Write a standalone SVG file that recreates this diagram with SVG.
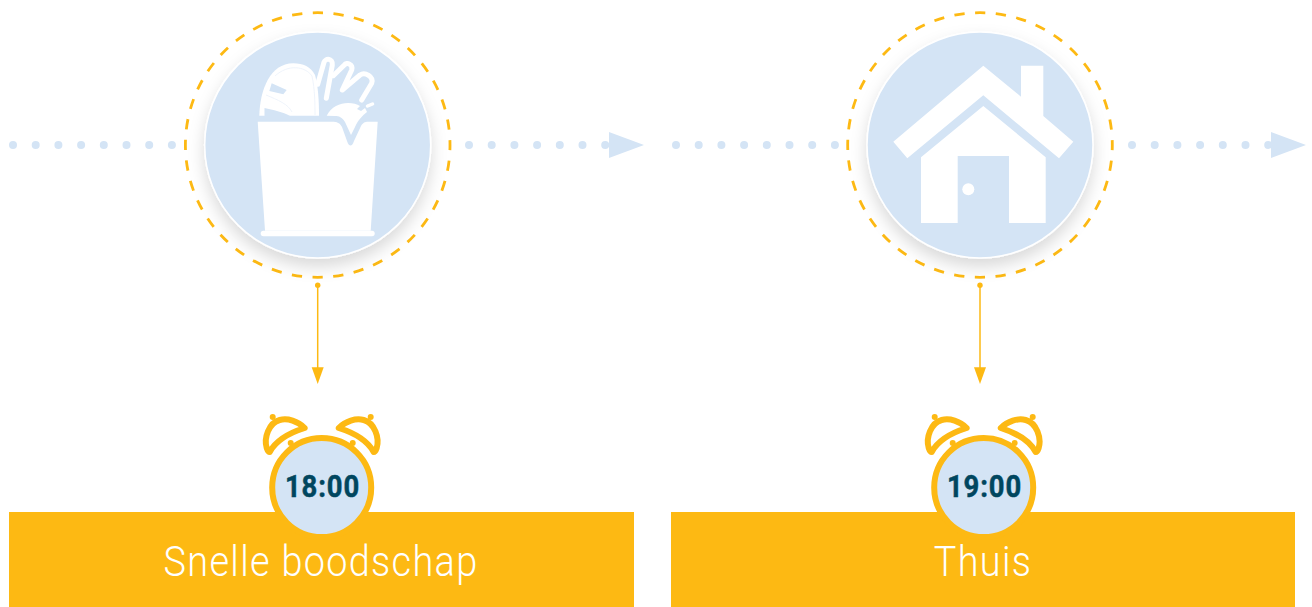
<svg xmlns="http://www.w3.org/2000/svg" width="1312" height="607" viewBox="0 0 1312 607">
<defs>
<style>
.dash{fill:none;stroke:#fdb913;stroke-width:2.8;stroke-dasharray:10.3 10.48;stroke-dashoffset:5.15}
.disc{fill:#d4e4f5;stroke:#fff;stroke-width:1.5;filter:url(#sh)}
.dots{fill:none;stroke:#d4e4f5;stroke-width:8;stroke-linecap:round;stroke-dasharray:0 22.7}
.head{fill:#d4e4f5}
.lead{stroke:#fdb913;stroke-width:1.5;fill:none}
.tip{fill:#fdb913}
.bar{fill:#fdb913}
.ring{fill:#d4e4f5;stroke:#fdb913;stroke-width:6}
.bell{fill:#fff;stroke:#fdb913;stroke-width:6;stroke-linejoin:round}
.knob{fill:#fdb913}
.time{font-family:"Roboto","Liberation Sans",sans-serif;font-weight:700;font-size:30.5px;fill:#00465f;stroke:#00465f;stroke-width:.5;text-anchor:middle;letter-spacing:1px}
.label{font-family:"Roboto","Liberation Sans",sans-serif;font-weight:300;font-size:43px;fill:#fff;text-anchor:middle;letter-spacing:1.5px}
.ico{fill:#fff}
.ln{fill:none;stroke:#fff;stroke-width:5;stroke-linecap:round;stroke-linejoin:round}
.faint{fill:none;stroke:#edf3fa;stroke-width:.9}
</style>
<filter id="sh" x="-20%" y="-20%" width="140%" height="140%"><feDropShadow dx="0" dy="8" stdDeviation="8" flood-color="#000" flood-opacity=".15"/></filter>
<g id="clock">
<path class="bell" d="M-17 -38C-24 -45-34 -48-42 -46C-53 -43-58 -28-55 -18C-54 -15-53 -14-52 -14C-46 -25-33 -33-17 -38Z"/>
<path class="bell" d="M17 -38C24 -45 34 -48 42 -46C53 -43 58 -28 55 -18C54 -15 53 -14 52 -14C46 -25 33 -33 17 -38Z"/>
<circle class="knob" cx="-49" cy="-49" r="3"/><circle class="knob" cx="49" cy="-49" r="3"/>
<circle class="knob" cx="-31" cy="-23" r="3"/><circle class="knob" cx="31" cy="-23" r="3"/>
</g>
</defs>
<g id="connectors">
<path class="dots" d="M13 145H175"/><path class="dots" d="M469 145H610"/>
<path class="head" d="M609 132L644 145L609 158Z"/>
<path class="dots" d="M676 145H838"/><path class="dots" d="M1132 145H1273"/>
<path class="head" d="M1271 132L1306 145L1271 158Z"/>
<circle class="tip" cx="317.700" cy="285.300" r="2.700"/><path class="lead" d="M317.700 286V370"/><path class="tip" d="M311.700 367.300H323.700L317.700 384Z"/>
<circle class="tip" cx="980" cy="285.300" r="2.700"/><path class="lead" d="M980 286V370"/><path class="tip" d="M974 367.300H986L980 384Z"/>
</g>
<g id="node-boodschap-icon">
<circle class="dash" cx="317.700" cy="145" r="132.300"/>
<circle class="disc" cx="317.700" cy="145" r="113"/>
<path class="ico" d="M257.700 121.700H332C337 121.700 340 123 342 127L347 141C349 147 352 147 354 141L361 126C363 122.500 365 121.700 368 121.700H377.700L370.700 230.700H265Z"/>
<rect class="ico" x="260.700" y="230.700" width="114" height="5.500" rx="2.700"/>
<path class="ico" d="M259.300 115.700C260 90 270 63.300 293.300 63.300C303 63.300 311 67 315 75C318 85 319 100 319 115.700Z"/>
<path class="head" d="M271.700 83.300L286.700 90L283.300 94.300L269.300 91Z"/>
<path class="head" d="M264.500 108C273 110 283 112 290 115.900H264.500Z"/>
<path class="faint" d="M266 95C278 100 288 104 292 112M275 76C288 64 305 66 312 76C315 90 315 105 315 115"/>
<path class="ln" d="M317.700 84.300L324 62.300C325.300 57.700 333.300 58.300 332.300 65L326.300 98.300"/>
<path class="ln" d="M333.300 75.700L344.300 65C346.700 61.700 353.300 64.300 351.700 70L342.300 90L360 75C365 71.700 374 76.700 371.700 83.300L361.700 100"/>
<path class="ico" d="M326.700 115.700C331 107 340 103 348 103C353 103 357 104 360 106L357 109L361 111L365 108L367 112C362 116 358 120 355 127L351 135L345 122C342 117 339 116 335 116Z"/>
<path class="ln" d="M367.500 106L372.500 104" style="stroke-width:3.500"/>
</g>
<g id="node-thuis-icon">
<circle class="dash" cx="980" cy="145" r="132.300"/>
<circle class="disc" cx="980" cy="145" r="113"/>
<path class="ico" d="M983.300 65.700L1021 96.700V65.700H1043.300V116L1073.300 141.700L1059 158.300L983.300 95.300L907.300 158.300L893.300 141.700Z"/>
<path class="ico" d="M983.300 106L1045.700 157.300V223H1009V156H957.700V223H921V157.300Z"/>
<circle class="ico" cx="968.300" cy="189.300" r="6"/>
</g>
<g id="node-snelle-boodschap">
<rect class="bar" x="9" y="512" width="625" height="95"/>
<use href="#clock" x="321.700" y="466"/>
<circle class="ring" cx="321.700" cy="487.500" r="49.500"/>
<text class="time" transform="translate(322.500 496.700) scale(.9 1)">18:00</text>
<text class="label" transform="translate(321 576) scale(.88 1)">Snelle boodschap</text>
</g>
<g id="node-thuis">
<rect class="bar" x="671" y="512" width="624" height="95"/>
<use href="#clock" x="983.700" y="466"/>
<circle class="ring" cx="983.700" cy="487.500" r="49.500"/>
<text class="time" transform="translate(984.500 496.700) scale(.9 1)">19:00</text>
<text class="label" transform="translate(983 576) scale(.88 1)">Thuis</text>
</g>
</svg>
